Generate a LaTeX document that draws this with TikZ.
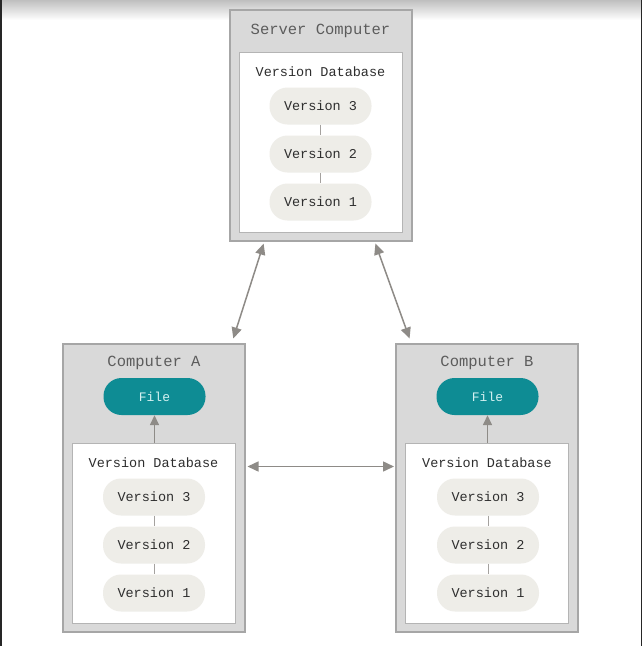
\documentclass[tikz,border=0pt]{standalone}
\usepackage{fontspec}
\setmainfont{Liberation Mono}
\usetikzlibrary{arrows.meta}
\definecolor{boxgray}{HTML}{D9D9D9}
\definecolor{boxedge}{HTML}{A6A6A6}
\definecolor{inneredge}{HTML}{B4B4B4}
\definecolor{pill}{HTML}{EEEDE8}
\definecolor{teal}{HTML}{0E8C94}
\definecolor{filetxt}{HTML}{D4F1F1}
\definecolor{arr}{HTML}{8E8B87}
\definecolor{txt}{HTML}{333333}
\begin{document}
\begin{tikzpicture}[x=1pt,y=-1pt,
  outer/.style={draw=boxedge,fill=boxgray,line width=1.5pt,minimum width=182pt,minimum height=#1,inner sep=0pt},
  inner/.style={draw=inneredge,fill=white,line width=1pt,minimum width=163pt,minimum height=180pt,inner sep=0pt},
  title/.style={text=txt!80!white,font=\fontsize{15.5}{18}\selectfont,inner sep=0pt},
  dbtitle/.style={text=txt!90!black,font=\fontsize{13.5}{16}\selectfont,inner sep=0pt},
  ver/.style={fill=pill,rounded corners=18pt,minimum width=102pt,minimum height=37pt,inner sep=0pt,text=txt!90!black,font=\fontsize{13.5}{16}\selectfont},
  file/.style={fill=teal,rounded corners=18pt,minimum width=102pt,minimum height=37pt,inner sep=0pt,text=filetxt,font=\fontsize{13}{16}\selectfont},
  link/.style={draw=arr!80!white,line width=0.8pt},
  dbl/.style={draw=arr,line width=1.5pt,{Triangle[length=11pt,width=10pt]}-{Triangle[length=11pt,width=10pt]}},
  up/.style={draw=arr,line width=1.5pt,-{Triangle[length=10pt,width=9pt]}}
]
\useasboundingbox (0,0) rectangle (642,646);
\fill[white] (0,0) rectangle (642,646);
\shade[top color=black!25,bottom color=white] (0,0) rectangle (642,20);
\fill[black!85] (0,0) rectangle (2,646);
\fill[black!85] (640.5,0) rectangle (642,646);

% Server
\node[outer=231pt] (server) at (321,125.5) {};
\node[title] (stitle) at (320.5,31) {Server Computer};
\node[inner] (sdb) at (320.5,142) {};
\node[dbtitle] (sdbt) at (320.5,72) {Version Database};
\node[ver] (s3) at (320.5,106) {Version 3};
\node[ver] (s2) at (320.5,154) {Version 2};
\node[ver] (s1) at (320.5,202) {Version 1};
\draw[link] (s3) -- (s2);
\draw[link] (s2) -- (s1);

% Computer A
\node[outer=288pt] (A) at (154,488) {};
\node[title] (atitle) at (154,363) {Computer A};
\node[file] (afile) at (154.5,396.5) {File};
\node[inner] (adb) at (153.5,533) {};
\node[dbtitle] (adbt) at (153.5,463) {Version Database};
\node[ver] (a3) at (154,497) {Version 3};
\node[ver] (a2) at (154,545) {Version 2};
\node[ver] (a1) at (154,593) {Version 1};
\draw[link] (a3) -- (a2);
\draw[link] (a2) -- (a1);
\draw[up] (adb.north -| afile.south) -- (afile.south);

% Computer B
\node[outer=288pt] (B) at (487,488) {};
\node[title] (btitle) at (487,363) {Computer B};
\node[file] (bfile) at (487.5,396.5) {File};
\node[inner] (bdb) at (487,533) {};
\node[dbtitle] (bdbt) at (487,463) {Version Database};
\node[ver] (b3) at (488,497) {Version 3};
\node[ver] (b2) at (488,545) {Version 2};
\node[ver] (b1) at (488,593) {Version 1};
\draw[link] (b3) -- (b2);
\draw[link] (b2) -- (b1);
\draw[up] (bdb.north -| bfile.south) -- (bfile.south);

% connections
\draw[dbl,shorten <=2pt,shorten >=5pt] ([xshift=35pt]server.south west) -- ([xshift=-14pt]A.north east);
\draw[dbl,shorten <=2pt,shorten >=5pt] ([xshift=-38pt]server.south east) -- ([xshift=16pt]B.north west);
\draw[dbl] ([xshift=12pt,yshift=-24pt]adb.north east) -- ([xshift=-11pt,yshift=-24pt]bdb.north west);
\end{tikzpicture}
\end{document}
